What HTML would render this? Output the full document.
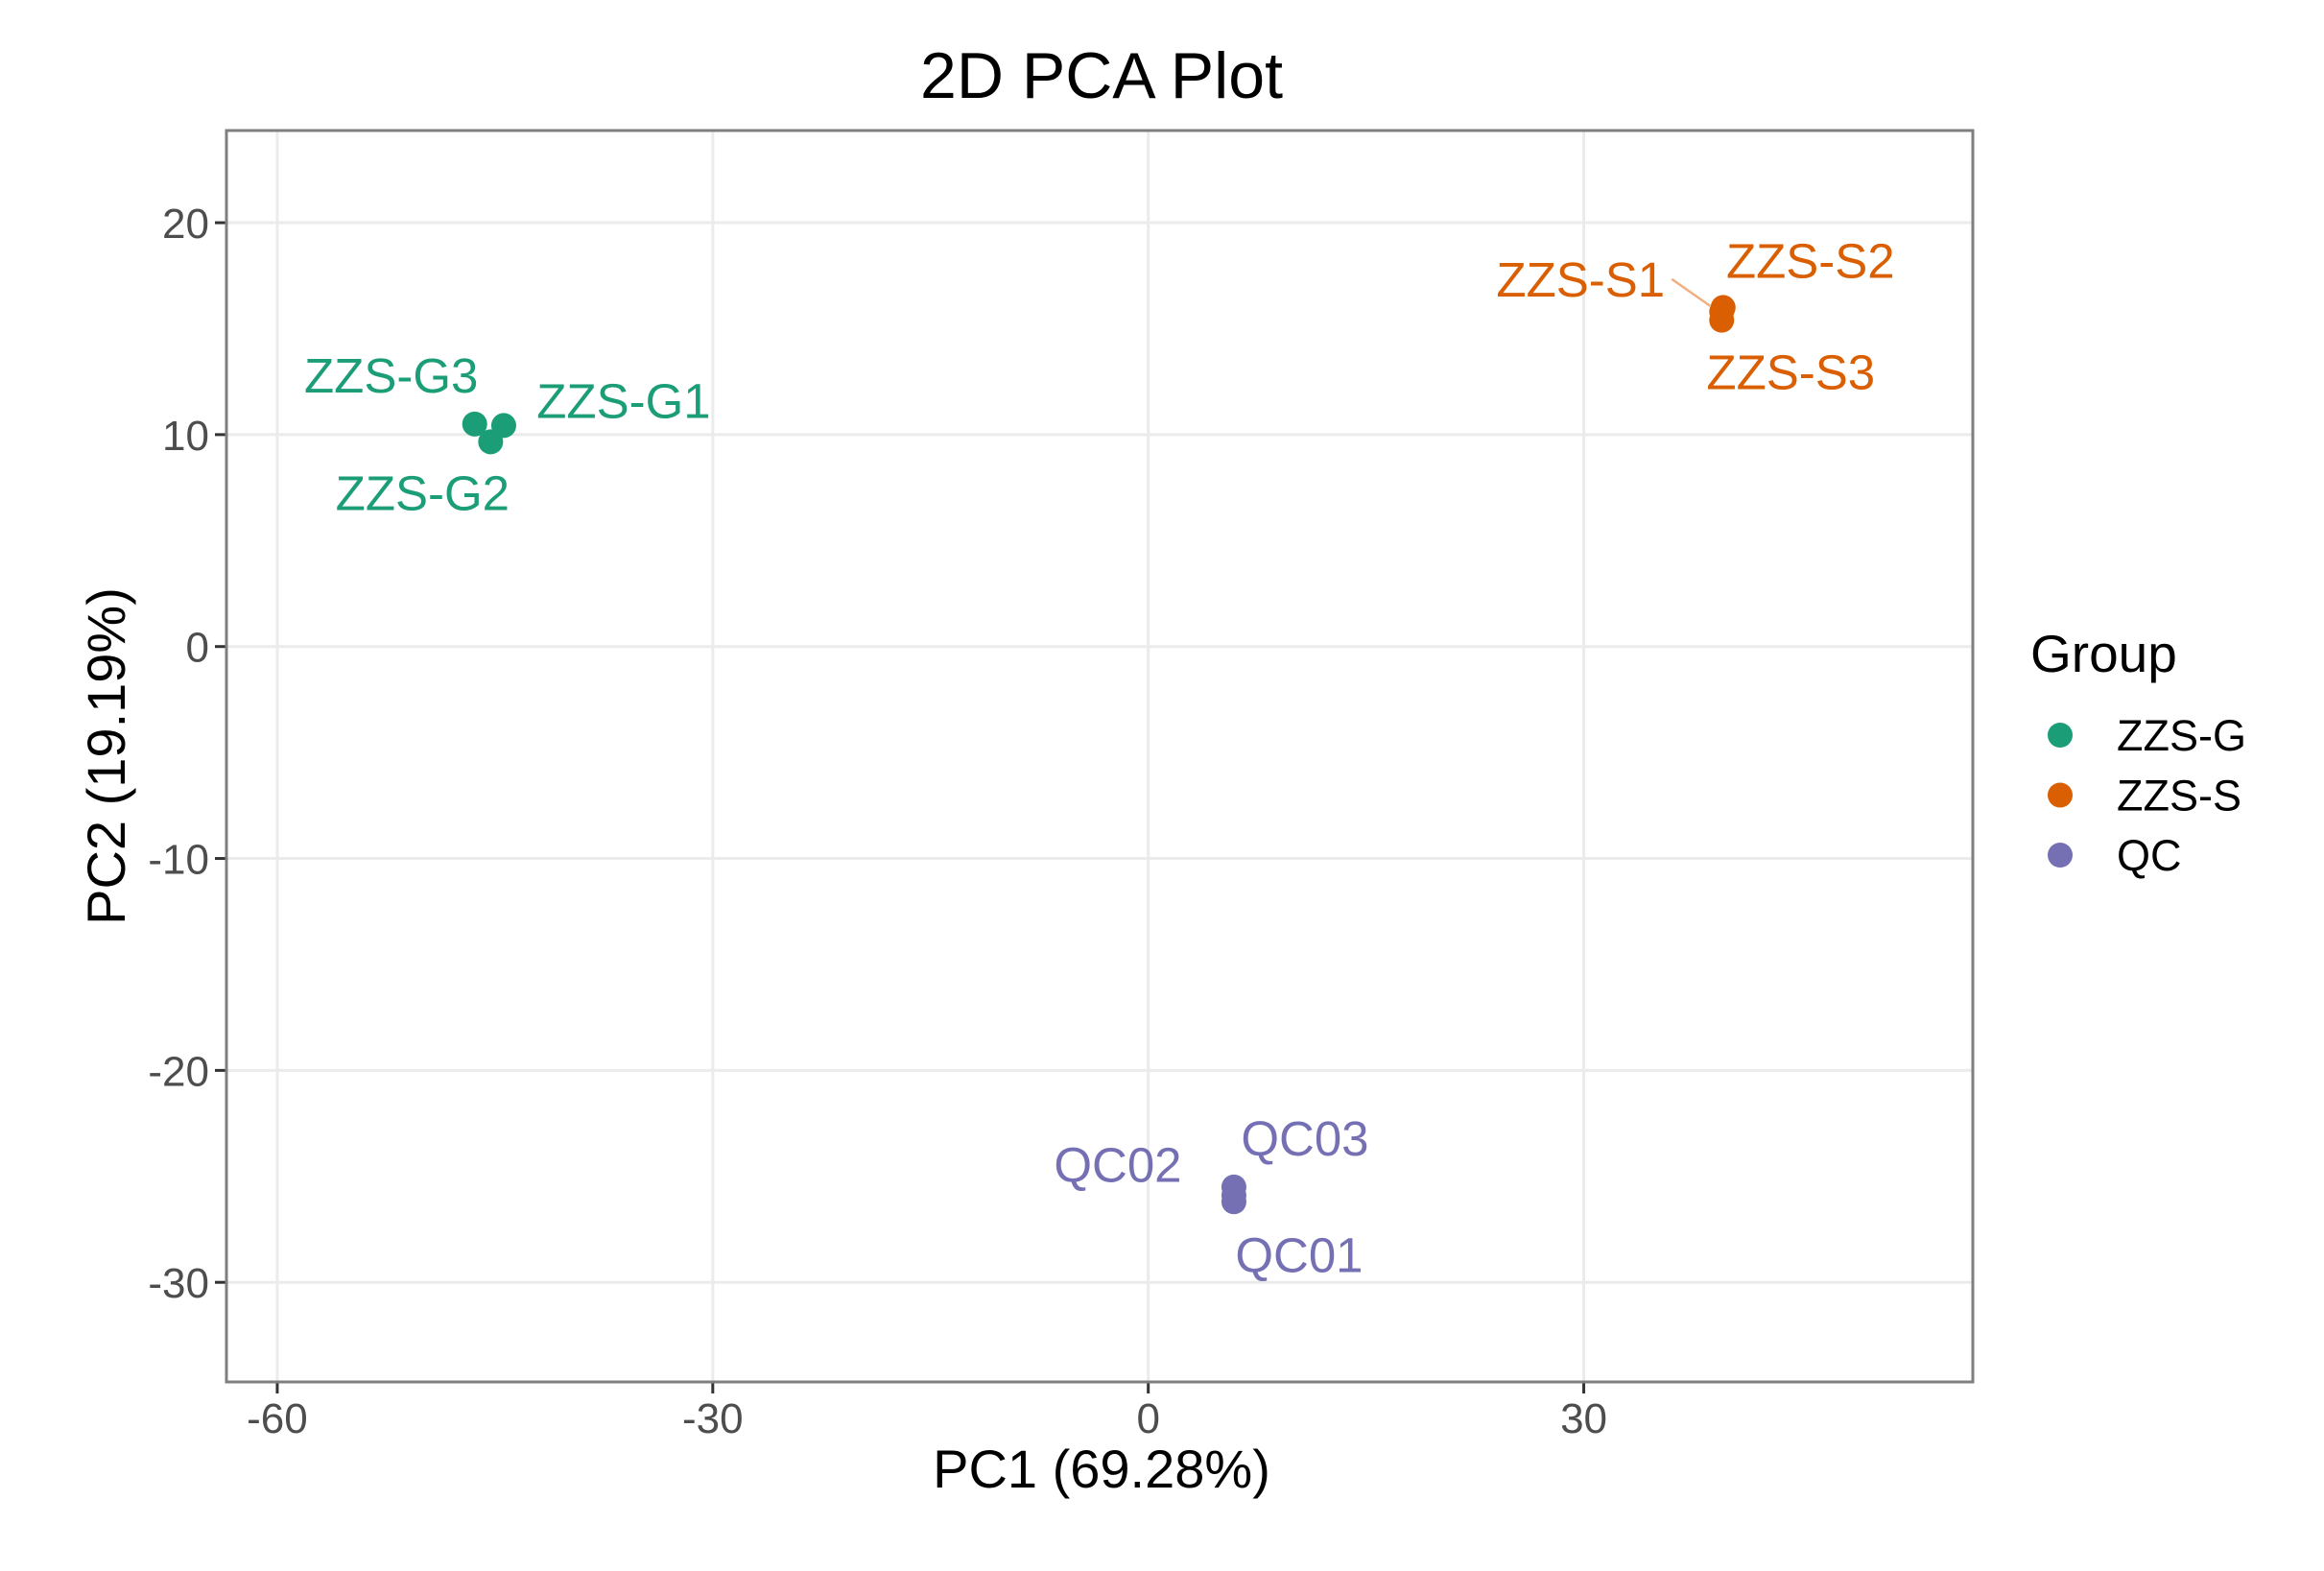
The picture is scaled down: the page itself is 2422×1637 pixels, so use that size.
<!DOCTYPE html>
<html><head><meta charset="utf-8"><style>
html,body{margin:0;padding:0;background:#fff;}
svg{display:block;font-family:"Liberation Sans",sans-serif;}
</style></head><body>
<svg id="chart" width="2422" height="1637" viewBox="0 0 2422 1637">
<text x="1148" y="102" font-size="68" text-anchor="middle" fill="#000">2D PCA Plot</text>
<rect x="236" y="136" width="1820" height="1304" fill="#fff"/>
<g id="grid"></g>
<g id="ticks"></g>
<g id="marks"></g>
<rect x="236" y="136" width="1820" height="1304" fill="none" stroke="#7f7f7f" stroke-width="3"/>
<text x="1148" y="1550" font-size="56" text-anchor="middle" fill="#000">PC1 (69.28%)</text>
<text transform="translate(130,788) rotate(-90)" font-size="56" text-anchor="middle" fill="#000">PC2 (19.19%)</text>
<g>
<text x="2116" y="700" font-size="55" fill="#000">Group</text>
<g id="legend-items"></g>
</g>
</svg>
<script>
const xTicks = [-60, -30, 0, 30];
const yTicks = [20, 10, 0, -10, -20, -30];
const groups = ["ZZS-G", "ZZS-S", "QC"];
const groupColors = ["#1B9E77", "#D95F02", "#7570B3"];
const sampleNames = ["ZZS-G1","ZZS-G2","ZZS-G3","ZZS-S1","ZZS-S2","ZZS-S3","QC01","QC02","QC03"];
const sampleGroups = [0,0,0,1,1,1,2,2,2];
const pc1 = [-44.4,-45.3,-46.4,39.5,39.6,39.5,5.9,5.9,5.9];
const pc2 = [10.43,9.66,10.5,15.8,16.0,15.4,-26.2,-25.9,-25.5];
// label offsets in pixels (layout, not data)
const labelDx = [125, -71, -87, -147, 91, 72, 68, -121, 74];
const labelDy = [-26, 53, -51, -34, -49, 54, 55, -32, -51];

const X0 = 236, X1 = 2056, Y0 = 136, Y1 = 1440;
const xMin = -63.5, xMax = 56.8, yMin = -34.7, yMax = 24.35;
const sx = v => X0 + (v - xMin) / (xMax - xMin) * (X1 - X0);
const sy = v => Y1 - (v - yMin) / (yMax - yMin) * (Y1 - Y0);
const NS = "http://www.w3.org/2000/svg";
function mk(tag, attrs, parent) {
  const e = document.createElementNS(NS, tag);
  for (const k in attrs) e.setAttribute(k, attrs[k]);
  parent.appendChild(e); return e;
}
const grid = document.getElementById("grid"), ticks = document.getElementById("ticks"), marks = document.getElementById("marks");
xTicks.forEach(v => {
  const gl = mk("line", {x1: sx(v), x2: sx(v), y1: Y0, y2: Y1, stroke: "#ebebeb", "stroke-width": 3}, grid);
  
  
  const tk = mk("line", {x1: sx(v), x2: sx(v), y1: Y1, y2: Y1 + 12, stroke: "#333", "stroke-width": 3}, ticks);
  
  
  const t = mk("text", {x: sx(v), y: Y1 + 53, "font-size": 44, "text-anchor": "middle", fill: "#4d4d4d"}, ticks);
  t.textContent = v;
  
  
});
yTicks.forEach(v => {
  const gl = mk("line", {x1: X0, x2: X1, y1: sy(v), y2: sy(v), stroke: "#ebebeb", "stroke-width": 3}, grid);
  
  
  const tk = mk("line", {x1: X0 - 12, x2: X0, y1: sy(v), y2: sy(v), stroke: "#333", "stroke-width": 3}, ticks);
  
  
  const t = mk("text", {x: X0 - 18, y: sy(v) + 16, "font-size": 44, "text-anchor": "end", fill: "#4d4d4d"}, ticks);
  t.textContent = v;
  
  
});
// S1 leader segment
{
  const i = 3, px = sx(pc1[i]), py = sy(pc2[i]);
  const seg = mk("line", {x1: px - 12, y1: py - 6, x2: px - 52, y2: py - 34, stroke: "#f0b080", "stroke-width": 2.5}, marks);
  
  
}
sampleNames.forEach((n, i) => {
  const c = groupColors[sampleGroups[i]];
  const px = sx(pc1[i]), py = sy(pc2[i]);
  const p = mk("circle", {cx: px, cy: py, r: 13, fill: c}, marks);
  
  
});
sampleNames.forEach((n, i) => {
  const c = groupColors[sampleGroups[i]];
  const px = sx(pc1[i]), py = sy(pc2[i]);
  const t = mk("text", {x: px + labelDx[i], y: py + labelDy[i] + 18, "font-size": 51, "text-anchor": "middle", fill: c}, marks);
  t.textContent = n;
  
  
});
const li = document.getElementById("legend-items");
groups.forEach((g, i) => {
  const y = 766 + i * 62.5;
  const d = mk("circle", {cx: 2147, cy: y, r: 13, fill: groupColors[i]}, li);
  
  
  const t = mk("text", {x: 2206, y: y + 16, "font-size": 45, fill: "#000"}, li);
  t.textContent = g;
  
  
});
</script>
</body></html>
